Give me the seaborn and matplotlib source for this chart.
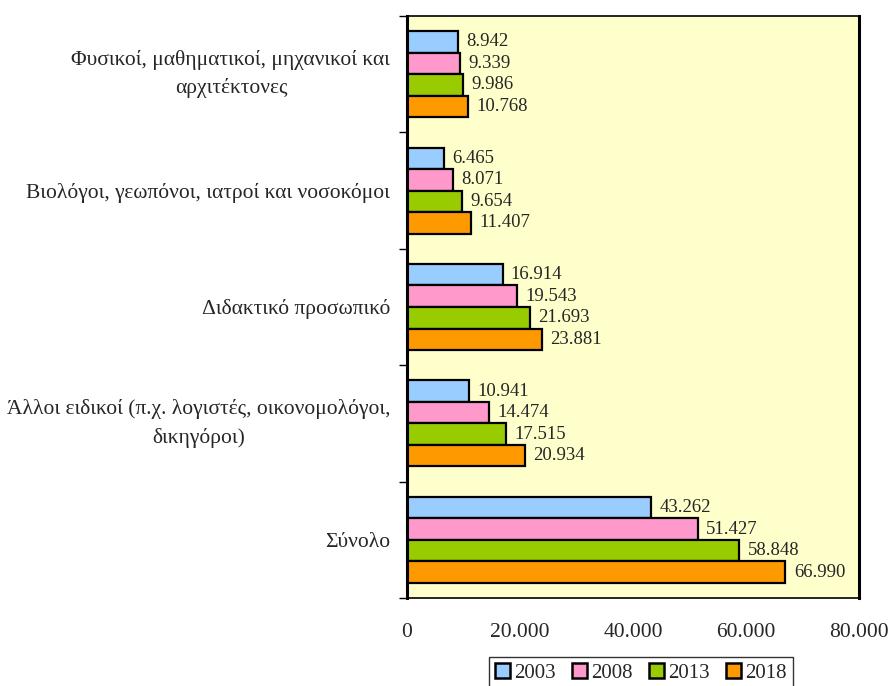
import seaborn as sns
import matplotlib.pyplot as plt
import pandas as pd

categories = ['Φυσικοί, μαθηματικοί, μηχανικοί και\nαρχιτέκτονες',
              'Βιολόγοι, γεωπόνοι, ιατροί και νοσοκόμοι',
              'Διδακτικό προσωπικό',
              'Άλλοι ειδικοί (π.χ. λογιστές, οικονομολόγοι,\nδικηγόροι)',
              'Σύνολο']
years = ['2003', '2008', '2013', '2018']
v2003 = [8942, 6465, 16914, 10941, 43262]
v2008 = [9339, 8071, 19543, 14474, 51427]
v2013 = [9986, 9654, 21693, 17515, 58848]
v2018 = [10768, 11407, 23881, 20934, 66990]
colors = ['#99CCFF', '#FF99CC', '#99CC00', '#FF9900']
xticks = [0, 20000, 40000, 60000, 80000]

rows = []
for y, vals in zip(years, [v2003, v2008, v2013, v2018]):
    for c, v in zip(categories, vals):
        rows.append({'cat': c, 'year': y, 'value': v})
df = pd.DataFrame(rows)

sns.set_style('white')
plt.rcParams['font.family'] = ['Liberation Serif', 'DejaVu Serif']

fig = plt.figure(figsize=(8.89, 6.86), dpi=100)
ax = fig.add_axes([407/889, 1-598/686, (859-407)/889, (598-16)/686])
ax.set_facecolor('#FFFFCC')

sns.barplot(data=df, y='cat', x='value', hue='year', order=categories, hue_order=years,
            palette=dict(zip(years, colors)), saturation=1, width=0.74,
            edgecolor='black', linewidth=1.6, orient='h', ax=ax)

# labels with dot as thousands separator
for cont in ax.containers:
    labs = ['{:,}'.format(int(b.get_width())).replace(',', '.') for b in cont]
    ax.bar_label(cont, labels=labs, padding=6, fontsize=13.5)

handles, labels = ax.get_legend_handles_labels()
ax.legend_.remove()

ax.set_xlim(0, 80000)
ax.set_ylim(4.5, -0.5)
ax.set_xticks(xticks)
ax.set_xticklabels(['{:,}'.format(t).replace(',', '.') for t in xticks], fontsize=15.5)
ax.tick_params(axis='x', length=0, pad=18)
ax.tick_params(axis='y', which='major', length=0, pad=12, labelsize=15.5)
ax.set_yticks([i - 0.5 for i in range(6)], minor=True)
ax.tick_params(axis='y', which='minor', length=6, width=1, color='black', left=True)
for lab in ax.get_yticklabels():
    lab.set_multialignment('center')
    lab.set_linespacing(1.55)
    if '\n' in lab.get_text():
        lab.set_verticalalignment('center')
ax.set_xlabel('')
ax.set_ylabel('')

for s in ['top', 'bottom']:
    ax.spines[s].set_color('black')
    ax.spines[s].set_linewidth(1.2)
for s in ['left', 'right']:
    ax.spines[s].set_color('black')
    ax.spines[s].set_linewidth(2.2)

leg = fig.legend(handles, labels, loc='lower center', bbox_to_anchor=(641/889, -0.02),
                 ncol=4, fontsize=15, frameon=True, fancybox=False,
                 handlelength=0.7, handleheight=0.7, handletextpad=0.2,
                 columnspacing=0.8, borderpad=0.3)
leg.get_frame().set_edgecolor('black')
leg.get_frame().set_linewidth(1)
for h in leg.legend_handles:
    h.set_edgecolor('black')
    h.set_linewidth(1.8)

fig.savefig('out.png', dpi=100)
